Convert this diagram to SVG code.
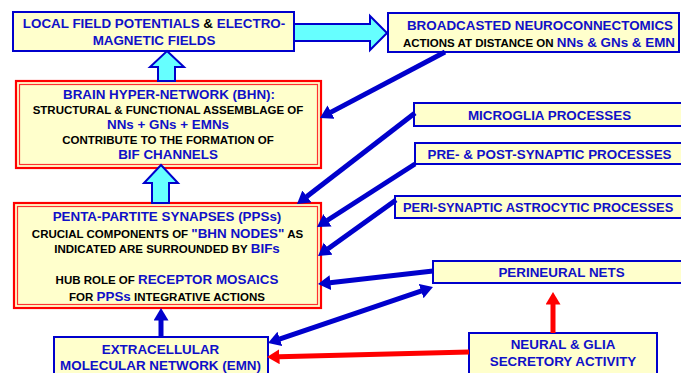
<svg xmlns="http://www.w3.org/2000/svg" width="681" height="373" viewBox="0 0 681 373">
<style>
text{font-family:"Liberation Sans",Arial,sans-serif;font-weight:bold;}
.b{fill:#1010C8;font-size:13.4px;}
.k{fill:#000;font-size:11.5px;}
.bb{fill:#1010C8;}
.kk{fill:#000;}
.box{fill:#FFFFCC;stroke:#0000CC;stroke-width:2;}
.rbox{fill:#FFFFCC;stroke:#FF0000;stroke-width:2.2;}
.rin{fill:none;stroke:#FF3030;stroke-width:1.2;}
.bl{stroke:#0000CC;stroke-width:5;fill:none;marker-end:url(#hb);}
.rl{stroke:#FF0000;stroke-width:5;fill:none;marker-end:url(#hr);}
.cy{fill:#66FFFF;stroke:#0000CC;stroke-width:2;stroke-linejoin:miter;}
</style>
<defs>
<marker id="hb" markerUnits="userSpaceOnUse" markerWidth="14" markerHeight="16" refX="0.5" refY="7.5" orient="auto"><path d="M0,0 L12.5,7.5 L0,15 z" fill="#0000CC"/></marker>
<marker id="hbs" markerUnits="userSpaceOnUse" markerWidth="14" markerHeight="16" refX="0.5" refY="7.5" orient="auto-start-reverse"><path d="M0,0 L12.5,7.5 L0,15 z" fill="#0000CC"/></marker>
<marker id="hr" markerUnits="userSpaceOnUse" markerWidth="14" markerHeight="16" refX="0.5" refY="7.5" orient="auto"><path d="M0,0 L12.5,7.5 L0,15 z" fill="#FF0000"/></marker>
</defs>
<rect width="681" height="373" fill="#FFFFFF"/>

<g id="lfp">
<rect class="box" x="13" y="12" width="281" height="39"/>
<text class="b" x="154" y="28" text-anchor="middle">LOCAL FIELD POTENTIALS <tspan class="kk">&amp;</tspan> ELECTRO-</text>
<text class="b" x="154" y="45" text-anchor="middle">MAGNETIC FIELDS</text>
</g>

<g id="broadcast">
<rect class="box" x="388" y="13" width="291" height="39"/>
<text class="b" x="540" y="30" text-anchor="middle">BROADCASTED NEUROCONNECTOMICS</text>
<text class="k" x="539" y="47" text-anchor="middle">ACTIONS AT DISTANCE ON <tspan class="bb" font-size="13.4px">NNs &amp; GNs &amp; EMN</tspan></text>
</g>

<g id="bhn">
<rect class="rbox" x="16" y="81" width="305" height="87"/>
<rect class="rin" x="19.5" y="84.5" width="298" height="80"/>
<text class="b" x="169" y="99" text-anchor="middle">BRAIN HYPER-NETWORK (BHN):</text>
<text class="k" x="168" y="113.5" text-anchor="middle">STRUCTURAL &amp; FUNCTIONAL ASSEMBLAGE OF</text>
<text class="b" x="168" y="129" text-anchor="middle">NNs + GNs + EMNs</text>
<text class="k" x="168" y="143.5" text-anchor="middle">CONTRIBUTE TO THE FORMATION OF</text>
<text class="b" x="168" y="159" text-anchor="middle">BIF CHANNELS</text>
</g>

<g id="pps">
<rect class="rbox" x="14" y="203" width="307" height="105"/>
<rect class="rin" x="17.5" y="206.5" width="300" height="98"/>
<text class="b" x="167" y="220.5" text-anchor="middle">PENTA-PARTITE SYNAPSES (PPSs)</text>
<text class="k" x="167.5" y="237.5" text-anchor="middle">CRUCIAL COMPONENTS OF <tspan class="bb" font-size="13.4px">"BHN NODES"</tspan> AS</text>
<text class="k" x="167" y="253" text-anchor="middle">INDICATED ARE SURROUNDED BY <tspan class="bb" font-size="13.4px">BIFs</tspan></text>
<text class="k" x="167" y="284" text-anchor="middle">HUB ROLE OF <tspan class="bb" font-size="13.4px">RECEPTOR MOSAICS</tspan></text>
<text class="k" x="167" y="300.5" text-anchor="middle">FOR <tspan class="bb" font-size="13.4px">PPSs</tspan> INTEGRATIVE ACTIONS</text>
</g>

<g id="microglia">
<rect class="box" x="414" y="103" width="272" height="23"/>
<text class="b" x="549.5" y="120" text-anchor="middle">MICROGLIA PROCESSES</text>
</g>

<g id="prepost">
<rect class="box" x="415" y="143" width="271" height="21"/>
<text class="b" x="549.5" y="159" text-anchor="middle">PRE- &amp; POST-SYNAPTIC PROCESSES</text>
</g>

<g id="peri">
<rect class="box" x="395" y="196" width="291" height="22"/>
<text class="b" x="403" y="211.5" style="font-size:12.9px">PERI-SYNAPTIC ASTROCYTIC PROCESSES</text>
</g>

<g id="perineural">
<rect class="box" x="433" y="261" width="253" height="22"/>
<text class="b" x="561.5" y="276.5" text-anchor="middle">PERINEURAL NETS</text>
</g>

<g id="emn">
<rect class="box" x="54" y="337" width="214" height="42"/>
<text class="b" x="160.5" y="354" text-anchor="middle">EXTRACELLULAR</text>
<text class="b" x="160.5" y="369.5" text-anchor="middle">MOLECULAR NETWORK (EMN)</text>
</g>

<g id="secretory">
<rect class="box" x="469" y="333" width="188" height="46"/>
<text class="b" x="563" y="349" text-anchor="middle">NEURAL &amp; GLIA</text>
<text class="b" x="563" y="366" text-anchor="middle">SECRETORY ACTIVITY</text>
</g>

<g id="connectors">
<polygon class="cy" points="294,24 370,24 370,16 387,33 370,50 370,41 294,41"/>
<polygon class="cy" points="167,51 184,67 175,67 175,81 158,81 158,67 150,67"/>
<polygon class="cy" points="161,165 178,183 169,183 169,203 152,203 152,183 144,183"/>
<path class="bl" d="M445,52 L330.6,112.4"/>
<path class="bl" d="M415,113 L306.5,196.7"/>
<path class="bl" d="M415,164 L327.1,220.5"/>
<path class="bl" d="M396,200 L327.75,249"/>
<path class="bl" d="M433,271 L329.9,282.65"/>
<path class="bl" d="M421.6,290.9 L279.4,339.1" style="marker-start:url(#hbs)"/>
<path class="bl" d="M161,337 L161,320"/>
<path class="rl" d="M469,352 L279,356.7"/>
<path class="rl" d="M553,333 L553,304"/>
</g>
</svg>
